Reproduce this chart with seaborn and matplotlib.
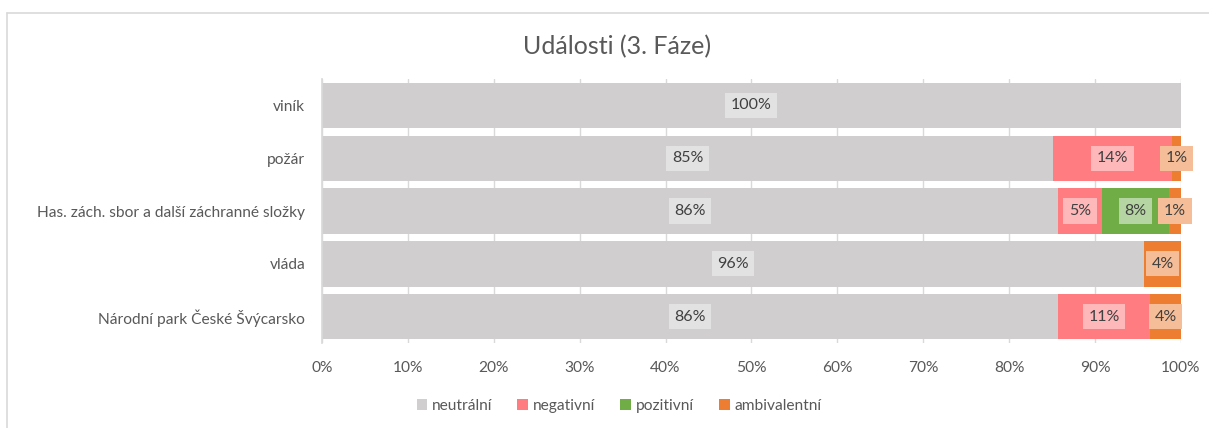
import numpy as np
import pandas as pd
import matplotlib.pyplot as plt
import seaborn as sns
from matplotlib.patches import Patch
from matplotlib.lines import Line2D

# ── data (shares in %) ───────────────────────────────────────────────────────
categories = ["viník", "požár", "Has. zách. sbor a další záchranné složky",
              "vláda", "Národní park České Švýcarsko"]
series = ["neutrální", "negativní", "pozitivní", "ambivalentní"]
neutralni = [100.0, 85.1, 85.7, 95.7, 85.7]
negativni = [0.0, 13.9, 5.1, 0.0, 10.7]
pozitivni = [0.0, 0.0, 7.8, 0.0, 0.0]
ambivalentni = [0.0, 1.0, 1.4, 4.3, 3.6]
xticks = np.arange(0, 101, 10)

colors = ["#D0CECE", "#FF7C80", "#70AD47", "#ED7D31"]
label_bg = ["#E3E2E2", "#FFB8BA", "#B5D6A3", "#F6BE98"]
text_col = "#595959"

sns.set_theme(style="white")
plt.rcParams["font.family"] = ["Lato", "DejaVu Sans"]

df = pd.DataFrame({"kategorie": categories, "neutrální": neutralni,
                   "negativní": negativni, "pozitivní": pozitivni,
                   "ambivalentní": ambivalentni})
cum = df[series].cumsum(axis=1)

fig = plt.figure(figsize=(12.09, 4.28), dpi=100)
ax = fig.add_axes([0.2663, 0.1986, 0.7105, 0.6168])

# stacked bars: draw cumulative totals from the widest down
for s, c in reversed(list(zip(series, colors))):
    sns.barplot(x=cum[s], y=df["kategorie"], color=c, width=0.86, saturation=1,
                orient="h", ax=ax, zorder=2, linewidth=0)

# value labels centred in every non-empty segment
for i in range(len(categories)):
    left = 0.0
    for s, bg in zip(series, label_bg):
        v = df.loc[i, s]
        if v > 0:
            ax.text(left + v / 2, i, f"{int(round(v))}%", ha="center", va="center",
                    fontsize=11.5, color="#404040", zorder=4,
                    bbox=dict(boxstyle="square,pad=0.35", fc=bg, ec="none"))
        left += v

ax.set_xlim(0, 100)
ax.set_ylim(4.5, -0.5)
ax.set_xticks(xticks)
ax.set_xticklabels([f"{t}%" for t in xticks])
ax.xaxis.grid(True, color="#D9D9D9", linewidth=1, zorder=0)
ax.set_axisbelow(True)
ax.set_xlabel("")
ax.set_ylabel("")
for sp in ["top", "right", "bottom"]:
    ax.spines[sp].set_visible(False)
ax.spines["left"].set_color("#D9D9D9")
ax.tick_params(axis="both", length=0, labelsize=11.2, colors=text_col)
ax.tick_params(axis="y", pad=12)
ax.tick_params(axis="x", pad=13)

fig.text(0.510, 0.89, "Události (3. Fáze)", ha="center", va="center",
         fontsize=18, color=text_col)

handles = [Patch(facecolor=c, edgecolor="none", label=s) for s, c in zip(series, colors)]
fig.legend(handles=handles, loc="center", bbox_to_anchor=(0.512, 0.052), ncol=4,
           frameon=False, fontsize=11.2, handlelength=0.7, handleheight=0.7,
           handletextpad=0.3, columnspacing=1.6, labelcolor=text_col)

# chart area frame (left and top edges visible)
fig.add_artist(Line2D([7 / 1209, 7 / 1209], [0, 1 - 13 / 428], transform=fig.transFigure,
                      color="#D9D9D9", linewidth=1.2))
fig.add_artist(Line2D([7 / 1209, 1], [1 - 13 / 428, 1 - 13 / 428], transform=fig.transFigure,
                      color="#D9D9D9", linewidth=1.2))

fig.savefig("out.png", dpi=100)
